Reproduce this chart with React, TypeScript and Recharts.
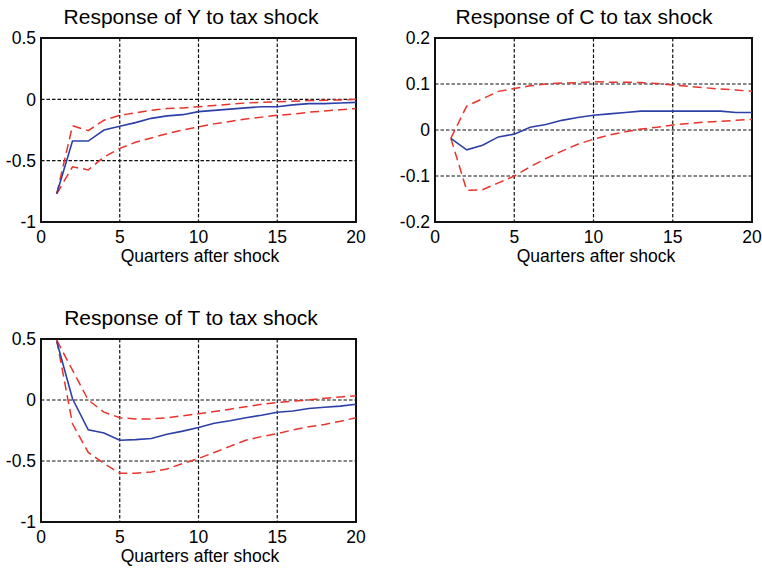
import React from 'react';
import { LineChart, Line, XAxis, YAxis, CartesianGrid, ReferenceArea } from 'recharts';

const quarters = [1, 2, 3, 4, 5, 6, 7, 8, 9, 10, 11, 12, 13, 14, 15, 16, 17, 18, 19, 20];

const yMid = [-0.77, -0.34, -0.34, -0.25, -0.22, -0.19, -0.155, -0.135, -0.125, -0.1, -0.09, -0.08, -0.07, -0.06, -0.06, -0.045, -0.035, -0.035, -0.03, -0.025];
const yUp = [-0.77, -0.215, -0.255, -0.17, -0.13, -0.11, -0.09, -0.075, -0.07, -0.06, -0.05, -0.04, -0.03, -0.025, -0.02, -0.015, -0.01, -0.008, -0.005, 0];
const yLo = [-0.77, -0.55, -0.575, -0.47, -0.4, -0.35, -0.315, -0.28, -0.25, -0.225, -0.2, -0.18, -0.16, -0.145, -0.13, -0.12, -0.105, -0.095, -0.085, -0.075];

const cMid = [-0.018, -0.043, -0.033, -0.015, -0.009, 0.006, 0.012, 0.021, 0.027, 0.032, 0.035, 0.038, 0.041, 0.041, 0.041, 0.041, 0.041, 0.041, 0.038, 0.038];
const cUp = [-0.018, 0.052, 0.068, 0.084, 0.09, 0.096, 0.1, 0.102, 0.103, 0.105, 0.104, 0.104, 0.103, 0.101, 0.098, 0.095, 0.092, 0.089, 0.087, 0.084];
const cLo = [-0.018, -0.131, -0.13, -0.115, -0.1, -0.08, -0.062, -0.046, -0.031, -0.02, -0.011, -0.004, 0.002, 0.006, 0.011, 0.014, 0.017, 0.019, 0.021, 0.023];

const tMid = [0.48, 0.01, -0.245, -0.27, -0.33, -0.325, -0.315, -0.28, -0.255, -0.225, -0.19, -0.17, -0.145, -0.125, -0.1, -0.09, -0.07, -0.06, -0.05, -0.035];
const tUp = [0.49, 0.245, 0, -0.1, -0.145, -0.155, -0.155, -0.145, -0.13, -0.113, -0.095, -0.075, -0.055, -0.035, -0.02, -0.01, 0, 0.015, 0.025, 0.035];
const tLo = [0.49, -0.195, -0.43, -0.52, -0.6, -0.6, -0.59, -0.565, -0.52, -0.48, -0.43, -0.38, -0.33, -0.3, -0.275, -0.245, -0.22, -0.2, -0.175, -0.145];

const xTicks = [0, 5, 10, 15, 20];
const yTicksY = [-1, -0.5, 0, 0.5];
const yTicksC = [-0.2, -0.1, 0, 0.1, 0.2];
const yTicksT = [-1, -0.5, 0, 0.5];

const titles = ['Response of Y to tax shock', 'Response of C to tax shock', 'Response of T to tax shock'];
const xLabel = 'Quarters after shock';

const FONT = '"Liberation Sans", Arial, Helvetica, sans-serif';

function build(mid: number[], up: number[], lo: number[]) {
  return quarters.map((q, i) => ({ q, mid: mid[i], up: up[i], lo: lo[i] }));
}

type PanelProps = {
  left: number;
  top: number;
  width: number;
  height: number;
  marginRight: number;
  xAxisHeight: number;
  data: { q: number; mid: number; up: number; lo: number }[];
  yTicks: number[];
};

function Panel({ left, top, width, height, marginRight, xAxisHeight, data, yTicks }: PanelProps) {
  const y0 = yTicks[0];
  const y1 = yTicks[yTicks.length - 1];
  const tickStyle = { fontSize: 17.5, fill: '#000', fontFamily: FONT };
  return (
    <div style={{ position: 'absolute', left, top, width, height }}>
      <LineChart width={width} height={height} data={data} margin={{ top: 38, right: marginRight, bottom: 0, left: 0 }}>
        <CartesianGrid stroke="#111" strokeDasharray="3.5 2" strokeWidth={1.2} horizontalValues={yTicks} verticalValues={xTicks} />
        <XAxis
          dataKey="q"
          type="number"
          domain={[0, 20]}
          ticks={xTicks}
          height={xAxisHeight}
          tickSize={0}
          tickMargin={9}
          axisLine={false}
          tick={tickStyle}
          interval={0}
        />
        <YAxis
          type="number"
          domain={[y0, y1]}
          ticks={yTicks}
          width={41}
          tickSize={0}
          tickMargin={5}
          axisLine={false}
          tick={tickStyle}
          interval={0}
          allowDataOverflow
        />
        <ReferenceArea x1={0} x2={20} y1={y0} y2={y1} fill="none" fillOpacity={0} stroke="#111" strokeWidth={2} />
        <Line type="linear" dataKey="up" stroke="#e8332b" strokeWidth={1.5} strokeDasharray="9 5" dot={false} isAnimationActive={false} />
        <Line type="linear" dataKey="lo" stroke="#e8332b" strokeWidth={1.5} strokeDasharray="9 5" dot={false} isAnimationActive={false} />
        <Line type="linear" dataKey="mid" stroke="#2c40a8" strokeWidth={1.6} dot={false} isAnimationActive={false} />
      </LineChart>
    </div>
  );
}

export default function App() {
  const dY = build(yMid, yUp, yLo);
  const dC = build(cMid, cUp, cLo);
  const dT = build(tMid, tUp, tLo);
  return (
    <div style={{ position: 'absolute', left: 0, top: 0, width: 762, height: 574, background: '#fff', overflow: 'hidden' }}>
      <Panel left={0} top={0} width={381} height={290} marginRight={25} xAxisHeight={68} data={dY} yTicks={yTicksY} />
      <Panel left={394} top={0} width={368} height={290} marginRight={10} xAxisHeight={68} data={dC} yTicks={yTicksC} />
      <Panel left={0} top={301} width={381} height={290} marginRight={25} xAxisHeight={69} data={dT} yTicks={yTicksT} />
      <svg width={762} height={574} style={{ position: 'absolute', left: 0, top: 0, pointerEvents: 'none' }}>
        <g fontFamily={FONT} fill="#000">
          <text x={191} y={24} fontSize={21} textAnchor="middle">{titles[0]}</text>
          <text x={584} y={24} fontSize={21} textAnchor="middle">{titles[1]}</text>
          <text x={191} y={325} fontSize={21} textAnchor="middle">{titles[2]}</text>
          <text x={200} y={262} fontSize={17.5} textAnchor="middle">{xLabel}</text>
          <text x={596} y={262} fontSize={17.5} textAnchor="middle">{xLabel}</text>
          <text x={200} y={562} fontSize={17.5} textAnchor="middle">{xLabel}</text>
        </g>
      </svg>
    </div>
  );
}
